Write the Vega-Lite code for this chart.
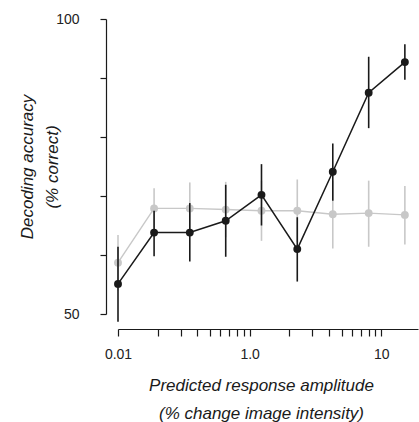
{
  "$schema": "https://vega.github.io/schema/vega-lite/v6.json",
  "width": 300,
  "height": 295,
  "autosize": {"type": "none"},
  "padding": {"left": 118, "top": 19, "right": 1, "bottom": 108},
  "background": "white",
  "config": {"view": {"stroke": null}, "font": "Liberation Sans"},
  "data": {"values": [
    {"series": "control", "x": 0.1, "y": 58.7, "lo": 54.0, "hi": 63.4},
    {"series": "control", "x": 0.188, "y": 67.9, "lo": 64.5, "hi": 71.3},
    {"series": "control", "x": 0.351, "y": 67.9, "lo": 63.5, "hi": 72.3},
    {"series": "control", "x": 0.658, "y": 67.7, "lo": 63.0, "hi": 72.4},
    {"series": "control", "x": 1.23, "y": 67.5, "lo": 62.4, "hi": 72.6},
    {"series": "control", "x": 2.3, "y": 67.5, "lo": 62.2, "hi": 72.8},
    {"series": "control", "x": 4.28, "y": 66.9, "lo": 61.1, "hi": 72.6},
    {"series": "control", "x": 8.02, "y": 67.1, "lo": 61.4, "hi": 72.6},
    {"series": "control", "x": 15.1, "y": 66.8, "lo": 61.8, "hi": 71.7},
    {"series": "model", "x": 0.1, "y": 55.1, "lo": 48.7, "hi": 61.4},
    {"series": "model", "x": 0.188, "y": 63.8, "lo": 59.8, "hi": 67.5},
    {"series": "model", "x": 0.351, "y": 63.8, "lo": 58.9, "hi": 68.8},
    {"series": "model", "x": 0.658, "y": 65.8, "lo": 59.7, "hi": 71.9},
    {"series": "model", "x": 1.23, "y": 70.2, "lo": 65.0, "hi": 75.4},
    {"series": "model", "x": 2.3, "y": 61.0, "lo": 55.5, "hi": 66.4},
    {"series": "model", "x": 4.28, "y": 74.1, "lo": 69.2, "hi": 78.9},
    {"series": "model", "x": 8.02, "y": 87.5, "lo": 81.5, "hi": 93.6},
    {"series": "model", "x": 15.1, "y": 92.7, "lo": 89.7, "hi": 95.7}
  ]},
  "encoding": {
    "x": {
      "field": "x", "type": "quantitative",
      "scale": {"type": "log", "domain": [0.1, 19], "nice": false},
      "axis": {
        "values": [0.1, 0.2, 0.3, 0.4, 0.5, 0.6, 0.7, 0.8, 0.9, 1, 2, 3, 4, 5, 6, 7, 8, 9, 10],
        "labelExpr": "datum.value == 0.1 ? '0.01' : (datum.value == 1 ? '1.0' : (datum.value == 10 ? '10' : ''))",
        "labelFlush": false, "labelBound": false, "labelOverlap": false,
        "offset": 15, "tickSize": 7, "labelPadding": 11, "grid": false,
        "domainColor": "#1a1a1a", "tickColor": "#1a1a1a", "labelColor": "#222222",
        "domainWidth": 1.2, "tickWidth": 1.2,
        "labelFont": "Liberation Sans", "labelFontSize": 14, "labelFontWeight": "normal",
        "title": ["Predicted response amplitude", "(% change image intensity)"],
        "titleFont": "Liberation Sans", "titleFontSize": 17, "titleFontStyle": "italic", "titleFontWeight": "normal",
        "titleColor": "#1a1a1a", "titleAlign": "center", "titleBaseline": "alphabetic", "titleAngle": 0,
        "titleX": 143, "titleY": 61, "titleLineHeight": 28
      }
    },
    "y": {
      "field": "y", "type": "quantitative",
      "scale": {"domain": [50, 100], "nice": false, "zero": false},
      "axis": {
        "values": [50, 60, 70, 80, 90, 100],
        "labelExpr": "datum.value == 50 || datum.value == 100 ? datum.label : ''",
        "offset": 12, "tickSize": 6, "labelPadding": 21, "grid": false,
        "domainColor": "#1a1a1a", "tickColor": "#1a1a1a", "labelColor": "#222222",
        "domainWidth": 1.2, "tickWidth": 1.2,
        "labelFont": "Liberation Sans", "labelFontSize": 14, "labelFontWeight": "normal",
        "title": ["Decoding accuracy", "(% correct)"],
        "titleFont": "Liberation Sans", "titleFontSize": 17, "titleFontStyle": "italic", "titleFontWeight": "normal",
        "titleColor": "#1a1a1a", "titleAlign": "center", "titleBaseline": "middle", "titleAngle": -90,
        "titleX": -79, "titleY": 147.5, "titleLineHeight": 25
      }
    },
    "color": {
      "field": "series", "type": "nominal",
      "scale": {"domain": ["control", "model"], "range": ["#c8c8c8", "#1a1a1a"]},
      "legend": null
    }
  },
  "layer": [
    {
      "transform": [{"filter": "datum.series == 'control'"}],
      "mark": {"type": "line", "strokeWidth": 1.4},
      "encoding": {}
    },
    {
      "transform": [{"filter": "datum.series == 'control'"}],
      "mark": {"type": "rule", "strokeWidth": 1.6, "clip": false},
      "encoding": {"y": {"field": "lo", "type": "quantitative", "title": ["Decoding accuracy", "(% correct)"]}, "y2": {"field": "hi"}}
    },
    {
      "transform": [{"filter": "datum.series == 'control'"}],
      "mark": {"type": "circle", "size": 62, "opacity": 1},
      "encoding": {}
    },
    {
      "transform": [{"filter": "datum.series == 'model'"}],
      "mark": {"type": "rule", "strokeWidth": 1.6, "clip": false},
      "encoding": {"y": {"field": "lo", "type": "quantitative", "title": ["Decoding accuracy", "(% correct)"]}, "y2": {"field": "hi"}}
    },
    {
      "transform": [{"filter": "datum.series == 'model'"}],
      "mark": {"type": "line", "strokeWidth": 1.5},
      "encoding": {}
    },
    {
      "transform": [{"filter": "datum.series == 'model'"}],
      "mark": {"type": "circle", "size": 62, "opacity": 1},
      "encoding": {}
    }
  ]
}
